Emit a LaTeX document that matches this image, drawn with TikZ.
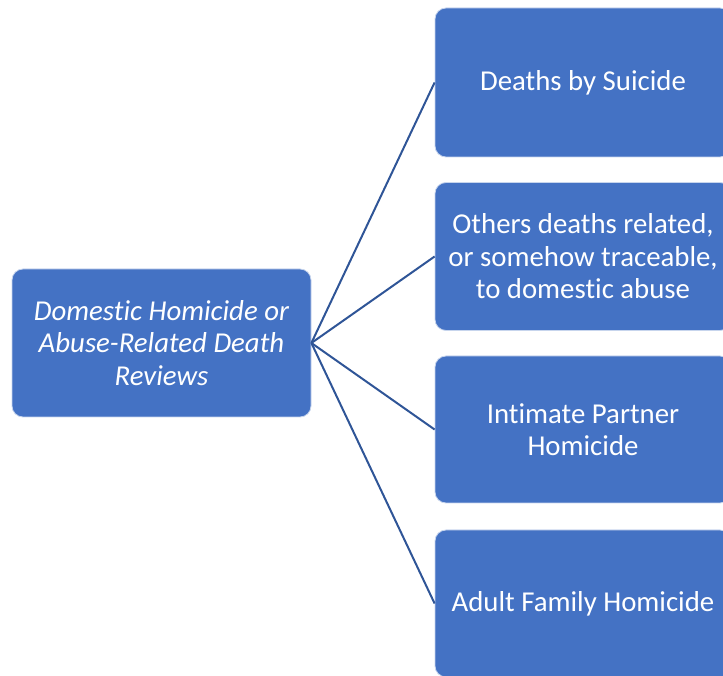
\documentclass[tikz,border=0pt]{standalone}
\usepackage{fontspec}
\setmainfont[Ligatures=NoCommon]{Carlito}
\definecolor{boxblue}{HTML}{4472C4}
\definecolor{lineblue}{HTML}{2F5597}
\begin{document}
\begin{tikzpicture}[x=1pt,y=1pt,
  boxstyle/.style={draw=white!70!boxblue, line width=0.8pt, fill=boxblue, rounded corners=11pt, text=white, align=center, inner sep=0pt, font=\fontsize{28.8}{32.5}\selectfont},
  link/.style={draw=lineblue, line width=2pt}]
\useasboundingbox (0,0) rectangle (723,675);
\clip (0,0) rectangle (723,675);
\node[boxstyle, minimum width=299pt, minimum height=148pt, font=\fontsize{28.8}{32.5}\selectfont\itshape] (root) at (161.5,332) {Domestic Homicide or\\Abuse-Related Death\\Reviews};
\node[boxstyle, minimum width=296pt, minimum height=149pt] (a) at (583,592.5) {Deaths by Suicide};
\node[boxstyle, minimum width=296pt, minimum height=148pt] (b) at (583,418.5) {Others deaths related,\\or somehow traceable,\\to domestic abuse};
\node[boxstyle, minimum width=296pt, minimum height=147pt] (c) at (583,245.5) {Intimate Partner\\Homicide};
\node[boxstyle, minimum width=296pt, minimum height=147pt] (d) at (583,71.5) {Adult Family Homicide};
\draw[link] (root.east) -- (a.west);
\draw[link] (root.east) -- (b.west);
\draw[link] (root.east) -- (c.west);
\draw[link] (root.east) -- (d.west);
\end{tikzpicture}
\end{document}
